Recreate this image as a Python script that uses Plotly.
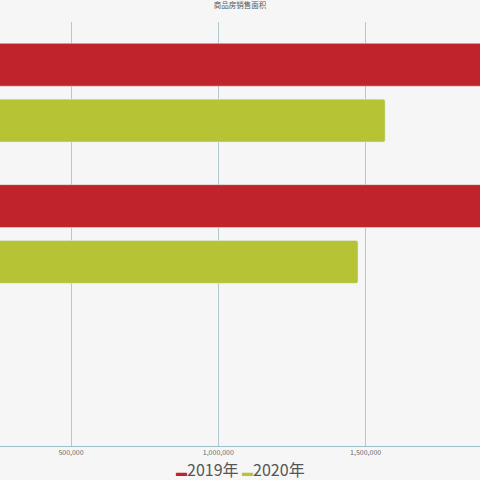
import plotly.graph_objects as go

categories = ["一季度", "二季度", "三季度"]
sales_2019 = [1960000, 1950000, None]
sales_2020 = [1566000, 1474000, None]
series_names = ["2019年", "2020年"]
series_colors = ["#C1232B", "#B5C334"]
tick_values = [500000, 1000000, 1500000]
tick_labels = ["500,000", "1,000,000", "1,500,000"]

fig = go.Figure()
fig.add_trace(go.Bar(y=categories, x=sales_2019, name=series_names[0], orientation="h",
                     marker=dict(color=series_colors[0]), showlegend=False))
fig.add_trace(go.Bar(y=categories, x=sales_2020, name=series_names[1], orientation="h",
                     marker=dict(color=series_colors[1]), showlegend=False))

legend_text = " ".join(
    f"<span style='color:{c};font-size:11px'>▬</span>{n}" for n, c in zip(series_names, series_colors)
)

fig.update_layout(
    width=480, height=480,
    paper_bgcolor="#f6f6f6", plot_bgcolor="#f6f6f6",
    margin=dict(l=0, r=0, t=22, b=34, autoexpand=False),
    font=dict(family="Noto Sans CJK SC, Open Sans, sans-serif", color="#666"),
    title=dict(text="商品房销售面积", x=0.5, xanchor="center", xref="paper",
               y=0.9895, yref="container", yanchor="middle",
               font=dict(size=7.5, color="#555")),
    barmode="group", bargap=0.21, bargroupgap=0.232, barcornerradius=2,
    showlegend=False,
    annotations=[dict(text=legend_text, x=0.5, xref="paper", xanchor="center",
                      y=-0.0541, yref="paper", yanchor="middle", showarrow=False,
                      font=dict(size=16, color="#555"))],
    xaxis=dict(range=[259000, 1888000], tickvals=tick_values, ticktext=tick_labels,
               showgrid=True, gridcolor="#b3c9cf", gridwidth=1, zeroline=False,
               showline=True, linecolor="#9fbfc8", linewidth=1,
               tickfont=dict(size=7, color="#666"), ticks="", ticklen=0),
    yaxis=dict(autorange="reversed", showticklabels=False, showgrid=False, zeroline=False,
               showline=False),
)

fig.write_html("out.html", config={"displayModeBar": False})
with open("out.html", encoding="utf-8") as f:
    html = f.read()
html = html.replace("<body>", "<body style=\"margin:0;padding:0;overflow:hidden\">", 1)
with open("out.html", "w", encoding="utf-8") as f:
    f.write(html)
